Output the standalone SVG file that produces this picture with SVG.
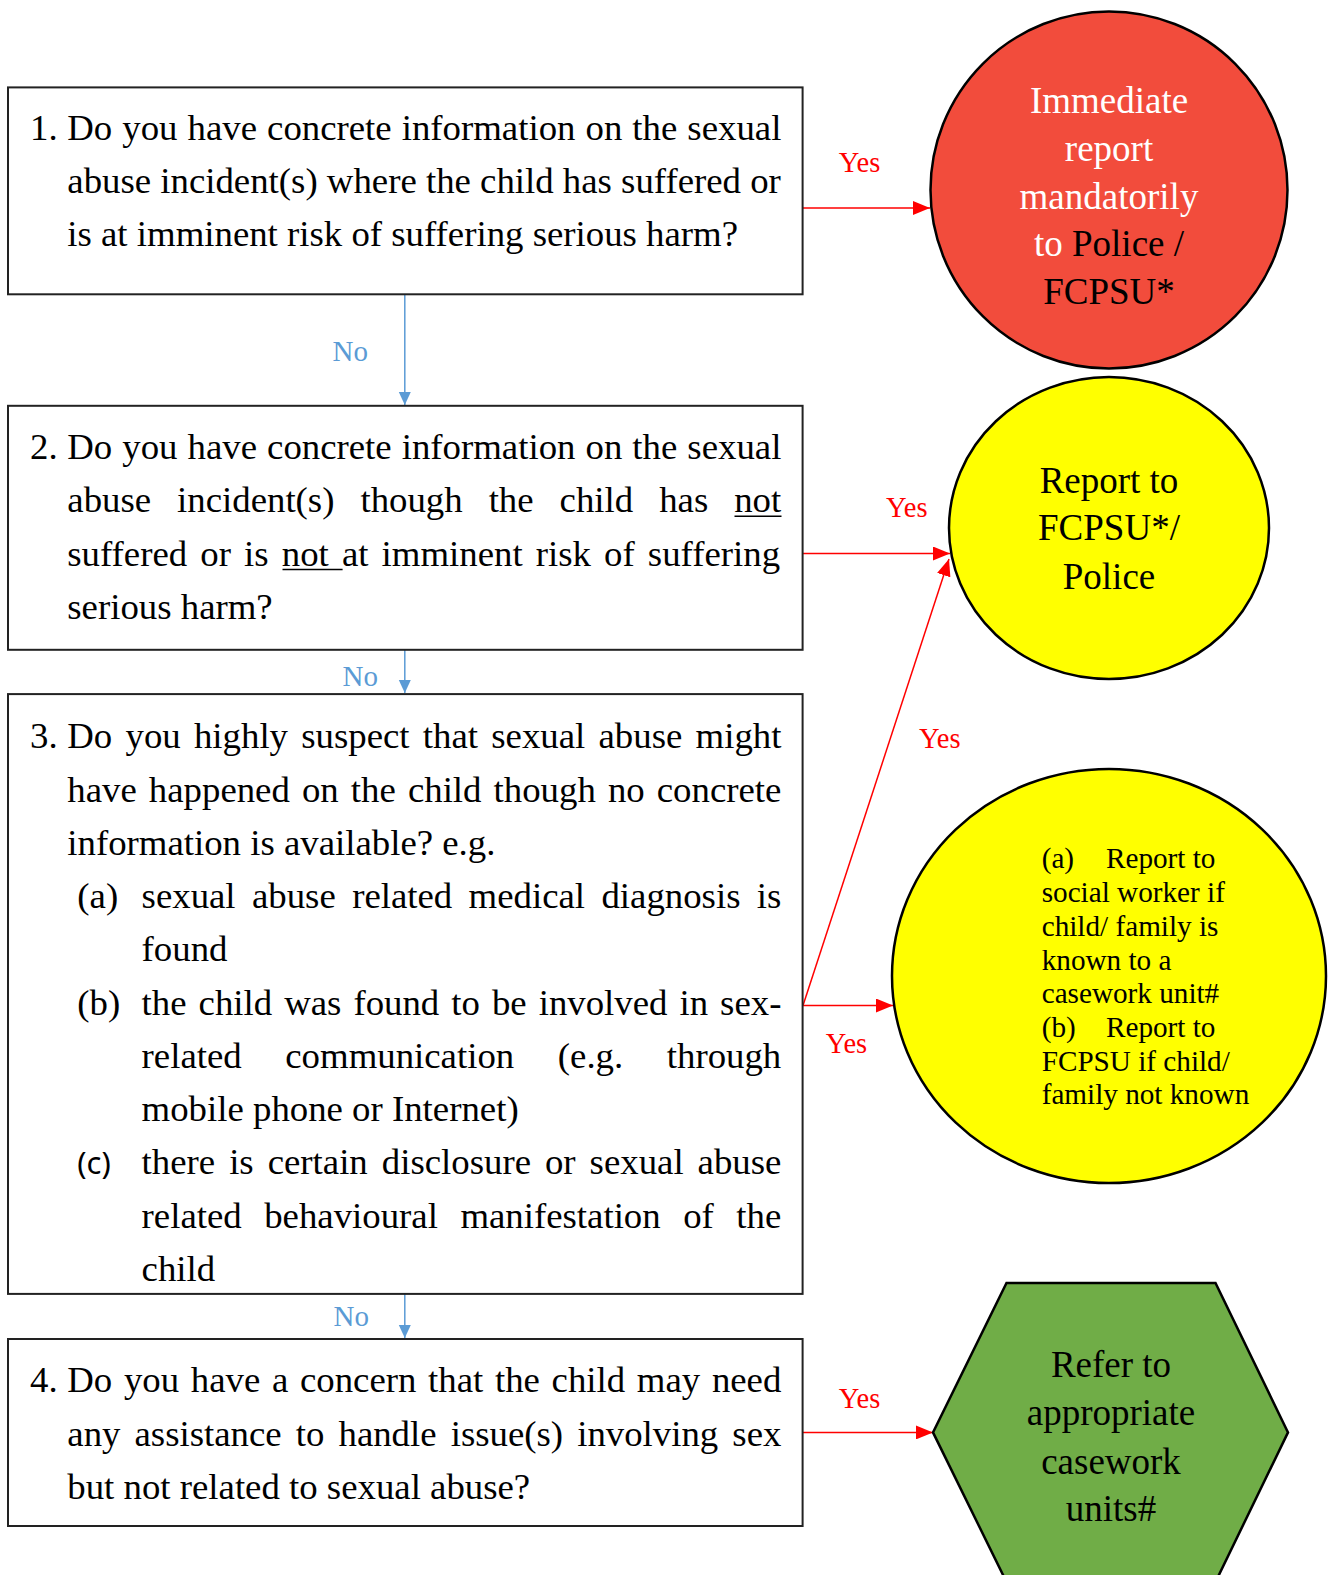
<svg xmlns="http://www.w3.org/2000/svg" width="1330" height="1575" viewBox="0 0 1330 1575">
<defs>
<style>
.box{fill:#fff;stroke:#222;stroke-width:2}
.t{font-family:"Liberation Serif","Times New Roman",serif;font-size:36.8px;fill:#000}
.c{font-family:"Liberation Serif","Times New Roman",serif;font-size:37px;fill:#000;text-anchor:middle}
.s{font-family:"Liberation Serif","Times New Roman",serif;font-size:29.2px;fill:#000}
.yes{font-family:"Liberation Serif","Times New Roman",serif;font-size:28.5px;fill:#ff0000}
.no{font-family:"Liberation Serif","Times New Roman",serif;font-size:29px;fill:#5b9bd5}
.red{stroke:#ff0000;stroke-width:1.5;fill:none}
.blue{stroke:#5b9bd5;stroke-width:1.5;fill:none}
.ul{stroke:#000;stroke-width:1.6}
</style>
<marker id="ar" markerUnits="userSpaceOnUse" markerWidth="18" markerHeight="14" refX="17" refY="7" orient="auto">
<path d="M0,0 L17,7 L0,14 Z" fill="#ff0000"/>
</marker>
<marker id="ab" markerUnits="userSpaceOnUse" markerWidth="14" markerHeight="14" refX="13" refY="6" orient="auto">
<path d="M0,0 L13,6 L0,12 Z" fill="#5b9bd5"/>
</marker>
</defs>

<g id="connectors">
<line class="blue" x1="404.8" y1="294" x2="404.8" y2="405" marker-end="url(#ab)"/>
<text class="no" x="332.5" y="360.6">No</text>
<line class="blue" x1="404.8" y1="650" x2="404.8" y2="693" marker-end="url(#ab)"/>
<text class="no" x="342.5" y="686">No</text>
<line class="blue" x1="404.8" y1="1294" x2="404.8" y2="1338" marker-end="url(#ab)"/>
<text class="no" x="333.5" y="1326">No</text>

<line class="red" x1="803" y1="208" x2="930" y2="208" marker-end="url(#ar)"/>
<text class="yes" x="838.8" y="171.8">Yes</text>
<line class="red" x1="803" y1="553.5" x2="950" y2="553.5" marker-end="url(#ar)"/>
<text class="yes" x="886" y="517.3">Yes</text>
<line class="red" x1="803" y1="1005.5" x2="949" y2="559" marker-end="url(#ar)"/>
<text class="yes" x="919.1" y="748.4">Yes</text>
<line class="red" x1="803" y1="1005.5" x2="893" y2="1005.5" marker-end="url(#ar)"/>
<text class="yes" x="825.7" y="1052.7">Yes</text>
<line class="red" x1="803" y1="1432.4" x2="933" y2="1432.4" marker-end="url(#ar)"/>
<text class="yes" x="838.8" y="1408.3">Yes</text>
</g>

<g id="q1">
<rect class="box" x="8" y="87.4" width="794.6" height="206.9"/>
<text class="t" x="30.1" y="139.6">1.</text>
<text class="t" x="67.3" y="139.6" style="word-spacing:0.85px">Do you have concrete information on the sexual</text>
<text class="t" x="67.3" y="192.8">abuse incident(s) where the child has suffered or</text>
<text class="t" x="67.3" y="246">is at imminent risk of suffering serious harm?</text>
</g>

<g id="q2">
<rect class="box" x="8" y="405.8" width="794.6" height="244"/>
<text class="t" x="30.1" y="459.1">2.</text>
<text class="t" x="67.3" y="459.1" style="word-spacing:0.85px">Do you have concrete information on the sexual</text>
<text class="t" x="67.3" y="512.3" style="word-spacing:16.8px">abuse incident(s) though the child has not</text>
<text class="t" x="67.3" y="565.5" style="word-spacing:3.93px">suffered or is not at imminent risk of suffering</text>
<text class="t" x="67.3" y="618.8">serious harm?</text>
<line class="ul" x1="734.5" y1="516.3" x2="781.5" y2="516.3"/>
<line class="ul" x1="282.5" y1="569.5" x2="342.6" y2="569.5"/>
</g>

<g id="q3">
<rect class="box" x="8" y="694.1" width="794.6" height="599.8"/>
<text class="t" x="30.1" y="748.4">3.</text>
<text class="t" x="67.3" y="748.4" style="word-spacing:4.05px">Do you highly suspect that sexual abuse might</text>
<text class="t" x="67.3" y="801.6" style="word-spacing:2.9px">have happened on the child though no concrete</text>
<text class="t" x="67.3" y="854.9">information is available? e.g.</text>
<text class="t" x="77.3" y="908.1">(a)</text>
<text class="t" x="141.6" y="908.1" style="word-spacing:7.18px">sexual abuse related medical diagnosis is</text>
<text class="t" x="141.6" y="961.4">found</text>
<text class="t" x="77.3" y="1014.6">(b)</text>
<text class="t" x="141.6" y="1014.6" style="word-spacing:2.82px">the child was found to be involved in sex-</text>
<text class="t" x="141.6" y="1067.8" style="word-spacing:34.4px">related communication (e.g. through</text>
<text class="t" x="141.6" y="1121.1">mobile phone or Internet)</text>
<text x="77.3" y="1174.3" style="font-family:'Noto Sans','DejaVu Sans',sans-serif;font-size:31px;fill:#000">(c)</text>
<text class="t" x="141.6" y="1174.3" style="word-spacing:4.8px">there is certain disclosure or sexual abuse</text>
<text class="t" x="141.6" y="1227.6" style="word-spacing:13.3px">related behavioural manifestation of the</text>
<text class="t" x="141.6" y="1280.8">child</text>
</g>

<g id="q4">
<rect class="box" x="8" y="1339" width="794.6" height="187"/>
<text class="t" x="30.1" y="1392.2">4.</text>
<text class="t" x="67.3" y="1392.2" style="word-spacing:2.48px">Do you have a concern that the child may need</text>
<text class="t" x="67.3" y="1445.5" style="word-spacing:4.9px">any assistance to handle issue(s) involving sex</text>
<text class="t" x="67.3" y="1498.7">but not related to sexual abuse?</text>
</g>

<g id="r1">
<circle cx="1109" cy="190" r="178.5" fill="#f24c3c" stroke="#000" stroke-width="2.5"/>
<text class="c" x="1109" y="112.5" fill="#fff" style="fill:#fff">Immediate</text>
<text class="c" x="1109" y="160.7" style="fill:#fff">report</text>
<text class="c" x="1109" y="208.9" style="fill:#fff">mandatorily</text>
<text class="c" x="1109" y="256.1"><tspan style="fill:#fff">to </tspan><tspan style="fill:#000">Police /</tspan></text>
<text class="c" x="1109" y="304.4">FCPSU*</text>
</g>

<g id="r2">
<ellipse cx="1109" cy="528" rx="160" ry="151" fill="#ffff00" stroke="#000" stroke-width="2.5"/>
<text class="c" x="1109" y="493.2">Report to</text>
<text class="c" x="1109" y="540.4">FCPSU*/</text>
<text class="c" x="1109" y="588.6">Police</text>
</g>

<g id="r3">
<ellipse cx="1109" cy="976" rx="217" ry="207" fill="#ffff00" stroke="#000" stroke-width="2.5"/>
<text class="s" x="1041.7" y="868.4">(a)</text>
<text class="s" x="1106" y="868.4">Report to</text>
<text class="s" x="1041.7" y="902.1">social worker if</text>
<text class="s" x="1041.7" y="935.8">child/ family is</text>
<text class="s" x="1041.7" y="969.5">known to a</text>
<text class="s" x="1041.7" y="1003.2">casework unit#</text>
<text class="s" x="1041.7" y="1036.9">(b)</text>
<text class="s" x="1106" y="1036.9">Report to</text>
<text class="s" x="1041.7" y="1070.6">FCPSU if child/</text>
<text class="s" x="1041.7" y="1104.3">family not known</text>
</g>

<g id="r4">
<polygon points="1006.5,1283 1215.5,1283 1288,1432.4 1215.5,1582 1006.5,1582 933,1432.4" fill="#70ad47" stroke="#000" stroke-width="2.5"/>
<text class="c" x="1111" y="1377.2">Refer to</text>
<text class="c" x="1111" y="1425.4">appropriate</text>
<text class="c" x="1111" y="1473.6">casework</text>
<text class="c" x="1111" y="1520.8">units#</text>
</g>
</svg>
